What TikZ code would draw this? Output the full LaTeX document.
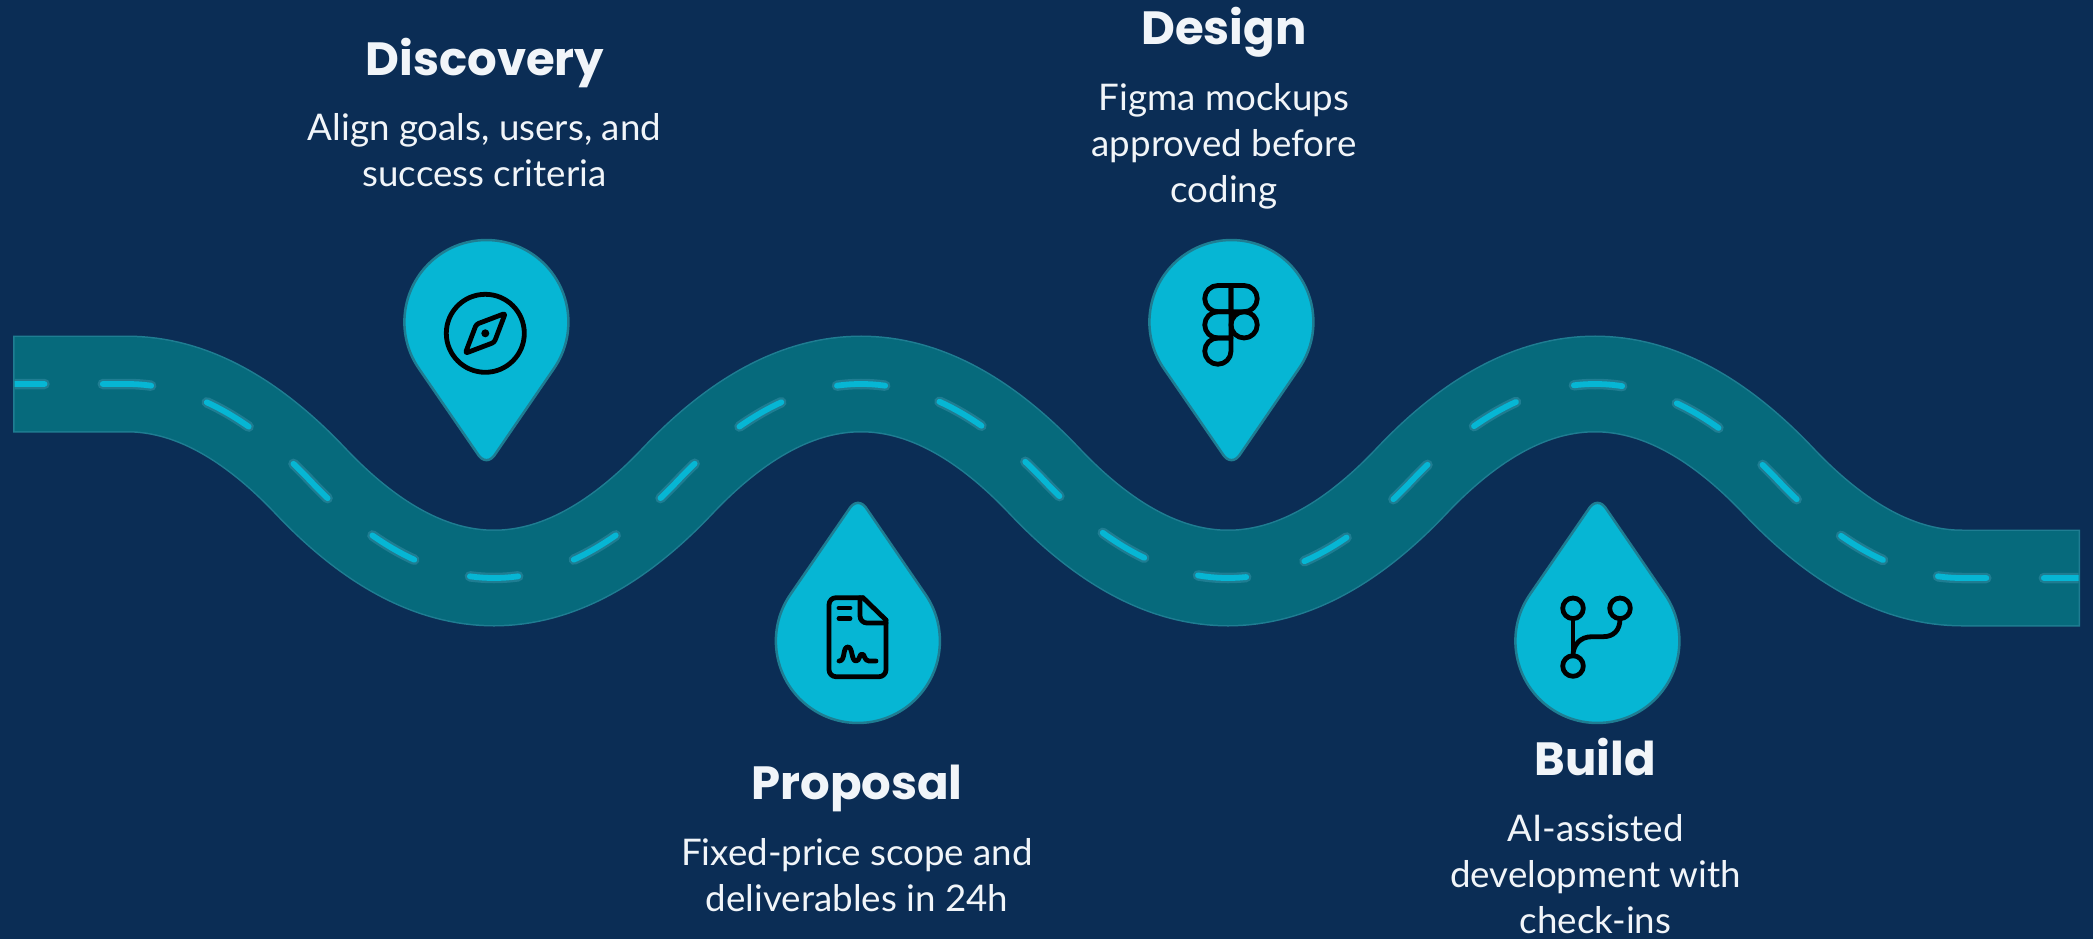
\documentclass[tikz,border=0pt]{standalone}
\usepackage{fontspec}
\setmainfont{Lato}
\newfontfamily\popfont{Poppins}
\definecolor{bgc}{HTML}{0B2D55}
\definecolor{roadc}{HTML}{066A7C}
\definecolor{edgec}{HTML}{1F7D92}
\definecolor{cyanc}{HTML}{06B6D4}
\definecolor{textc}{HTML}{F1F5F9}
\newcommand{\segA}[1]{(#1,384) -- (127,384)
  .. controls (188.17,384) and (249.33,416.33) .. (310.5,481)
  .. controls (371.67,545.67) and (432.83,578) .. (494,578)
  .. controls (555.17,578) and (616.33,545.67) .. (677.5,481)
  .. controls (738.67,416.33) and (799.83,384) .. (861,384)}
\newcommand{\segB}{.. controls (922.17,384) and (983.33,416.33) .. (1044.5,481)
  .. controls (1105.67,545.67) and (1166.83,578) .. (1228,578)}
\newcommand{\segC}{.. controls (1289.17,578) and (1350.33,545.67) .. (1411.5,481)
  .. controls (1472.67,416.33) and (1533.83,384) .. (1595,384)}
\newcommand{\segD}[1]{.. controls (1656.17,384) and (1717.33,416.33) .. (1778.5,481)
  .. controls (1839.67,545.67) and (1900.83,578) .. (1962,578) -- (#1,578)}
\newcommand{\pinpath}{(-68,46) arc[start angle=145.9,end angle=394.1,radius=82] -- (9.5,131) .. controls (4,140.5) and (-4,140.5) .. (-9.5,131) -- cycle}
\newcommand{\roaddashes}{%
  \draw[dashline,dash pattern=on 48.5pt off 58.25pt,dash phase=18.5pt] \segA{14.5};
  \draw[dashline,dash pattern=on 48.5pt off 56.75pt,dash phase=24.25pt] (861,384) \segB;
  \draw[dashline,dash pattern=on 48.5pt off 60.5pt,dash phase=30.25pt] (1228,578) \segC;
  \draw[dashline,dash pattern=on 48.5pt off 57.5pt,dash phase=21.25pt] (1595,384) \segD{2079};
}
\tikzset{
  pin/.style={fill=cyanc,draw=edgec,line width=2.5pt,line join=round},
  icon/.style={draw=black,line width=4.8pt,line cap=round,line join=round,fill=none},
  titletext/.style={text=textc,font=\popfont\bfseries\fontsize{46.6}{54}\selectfont,align=center,inner sep=0pt},
  bodytext/.style={text=textc,font=\fontsize{36.7}{46}\selectfont,align=center,inner sep=0pt},
  dashline/.style={line cap=round}
}
\begin{document}
\begin{tikzpicture}[x=1pt,y=-1pt]
\useasboundingbox (0,0) rectangle (2093,939);
\fill[bgc] (0,0) rectangle (2093,939);
% road
\draw[edgec,line width=97pt] \segA{13} \segB \segC \segD{2080};
\draw[roadc,line width=94pt] \segA{14.5} \segB \segC \segD{2078.5};
\begin{scope}
\clip (14.5,300) rectangle (2078.5,660);
\begin{scope}[edgec,line width=10.5pt]\roaddashes\end{scope}
\begin{scope}[cyanc,line width=5.8pt]\roaddashes\end{scope}
\end{scope}
% pins
\draw[pin,shift={(486.5,322)}] \pinpath;
\draw[pin,shift={(1231.5,322)}] \pinpath;
\begin{scope}[shift={(858,641)},yscale=-1]\draw[pin] \pinpath;\end{scope}
\begin{scope}[shift={(1597.5,641)},yscale=-1]\draw[pin] \pinpath;\end{scope}
% compass
\begin{scope}[shift={(485.3,333.3)}]
\draw[icon] (0,0) circle[radius=39];
\draw[icon,rounded corners=2.5pt] (20,-20) -- (9,9) -- (-20,20) -- (-9,-9) -- cycle;
\fill[black] (0,0) circle[radius=4];
\end{scope}
% figma
\begin{scope}[shift={(1231,323)},x=3.75pt,y=-3.75pt]
\begin{scope}[shift={(-12,-12)}]
\draw[icon] (12,2) -- (8.5,2) arc[start angle=270,end angle=90,radius=3.5] -- (12,9) -- cycle;
\draw[icon] (12,2) -- (15.5,2) arc[start angle=-90,end angle=90,radius=3.5] -- (12,9) -- cycle;
\draw[icon] (15.5,12.5) circle[radius=3.5];
\draw[icon] (12,9) -- (8.5,9) arc[start angle=270,end angle=90,radius=3.5] -- (12,16) -- cycle;
\draw[icon] (12,16) -- (8.5,16) arc[start angle=270,end angle=90,radius=3.5] arc[start angle=90,end angle=0,radius=3.5] -- cycle;
\end{scope}
\end{scope}
% document
\begin{scope}[shift={(760,490)}]
\draw[icon,rounded corners=7pt] (103,107.7) -- (69,107.7) -- (69,186.7) -- (126,186.7) -- (126,130);
\draw[icon,rounded corners=2pt] (103,107.7) -- (126,130);
\draw[icon,rounded corners=7pt] (100,107.7) -- (100,133) -- (126,133);
\draw[icon] (79,118) -- (90,118);
\draw[icon] (79,128.5) -- (90,128.5);
\draw[icon] (79,171) .. controls (86,171) and (82,157) .. (88,157) .. controls (93,157) and (91,171) .. (96,171) .. controls (100,171) and (99,164) .. (102,164) .. controls (105,164) and (104,171) .. (109,171) -- (116,171);
\end{scope}
% git branch
\begin{scope}[shift={(1500,490)}]
\draw[icon] (73,118.3) circle[radius=10.3];
\draw[icon] (120,118.3) circle[radius=10.3];
\draw[icon] (73,176) circle[radius=10.3];
\draw[icon] (73,128.6) -- (73,165.7);
\draw[icon] (120,128.6) .. controls (120,140) and (114,146.7) .. (103,146.7) -- (92,146.7) .. controls (80,146.7) and (73,155) .. (73,165.7);
\end{scope}
% text
\node[titletext] (t1) at (485,63) {Discovery};
\node[bodytext] (b1) at (484.5,150.5) {Align goals, users, and\\success criteria};
\node[titletext] (t2) at (1224,32) {Design};
\node[bodytext] (b2) at (1224,146) {Figma mockups\\approved before\\coding};
\node[titletext] (t3) at (857,788) {Proposal};
\node[bodytext] (b3) at (857,875) {Fixed-price scope and\\deliverables in 24h};
\node[titletext] (t4) at (1595,757) {Build};
\node[bodytext] (b4) at (1595.5,874) {AI-assisted\\development with\\check-ins};
\end{tikzpicture}
\end{document}
